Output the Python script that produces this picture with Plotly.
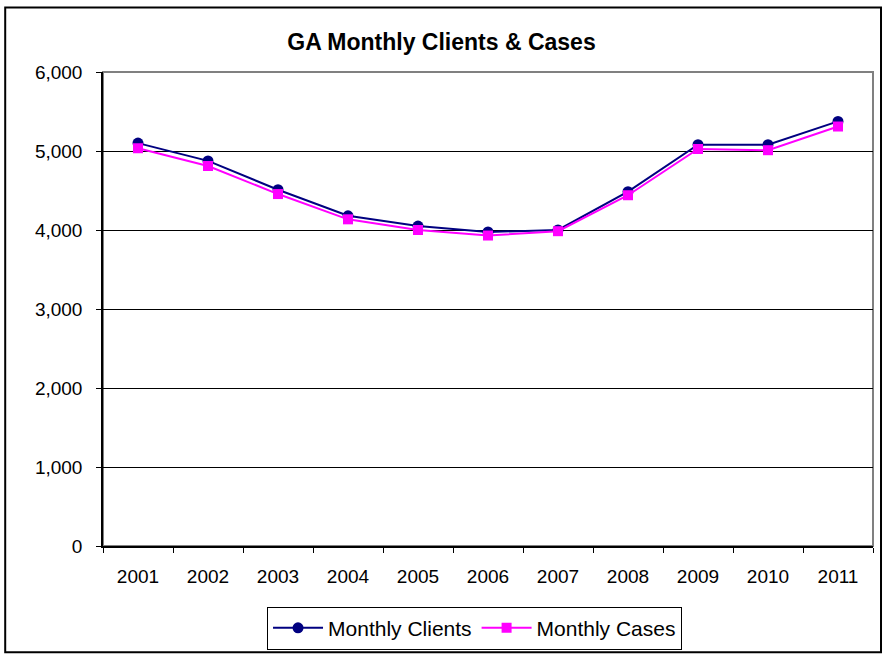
import plotly.graph_objects as go

years = ["2001", "2002", "2003", "2004", "2005", "2006", "2007", "2008", "2009", "2010", "2011"]
monthly_clients = [5100, 4875, 4510, 4180, 4050, 3975, 4000, 4485, 5080, 5080, 5375]
monthly_cases = [5035, 4810, 4455, 4135, 4000, 3930, 3985, 4440, 5025, 5010, 5310]

FONT = "Liberation Sans, Arial, sans-serif"

fig = go.Figure()
fig.add_trace(go.Scatter(
    x=years, y=monthly_clients, name="Monthly Clients",
    mode="lines+markers",
    line=dict(color="#000080", width=2),
    marker=dict(symbol="circle", size=11, color="#000080"),
))
fig.add_trace(go.Scatter(
    x=years, y=monthly_cases, name="Monthly Cases",
    mode="lines+markers",
    line=dict(color="#FF00FF", width=2),
    marker=dict(symbol="square", size=10, color="#FF00FF"),
))

fig.update_layout(
    width=883, height=660,
    margin=dict(l=103, r=10, t=72, b=110),
    paper_bgcolor="white", plot_bgcolor="white",
    font=dict(family=FONT, size=19, color="black"),
    title=dict(text="<b>GA Monthly Clients &amp; Cases</b>", x=0.5, xanchor="center",
               y=1 - 42 / 660, yanchor="middle", font=dict(size=23)),
    showlegend=True,
    legend=dict(orientation="h", x=0.4825, xanchor="center", y=-0.128, yanchor="top",
                bordercolor="black", borderwidth=1, font=dict(size=21),
                itemwidth=50, tracegroupgap=0),
    shapes=[
        # gray plot-area frame (top/right)
        dict(type="rect", xref="paper", yref="paper", x0=0, x1=1, y0=0, y1=1,
             line=dict(color="#808080", width=2), layer="below"),
        # outer chart border
        dict(type="rect", xref="paper", yref="paper", x0=-0.127, x1=1.0104,
             y0=-0.224, y1=1.136, line=dict(color="black", width=2)),
    ],
)

fig.update_xaxes(
    type="category", range=[-0.5, len(years) - 0.5], showgrid=False,
    showline=True, linecolor="black", linewidth=1.5,
    ticks="outside", tickson="boundaries", ticklen=5, tickcolor="black",
    ticklabelstandoff=12,
)
fig.update_yaxes(
    range=[0, 6000], dtick=1000, tickformat=",",
    showgrid=True, gridcolor="black", gridwidth=1,
    showline=True, linecolor="black", linewidth=1.5,
    ticks="outside", ticklen=5, tickcolor="black",
    ticklabelstandoff=10, zeroline=False,
)

fig.write_html("out.html", config={"displayModeBar": False},
               post_script="document.body.style.margin='0';")
